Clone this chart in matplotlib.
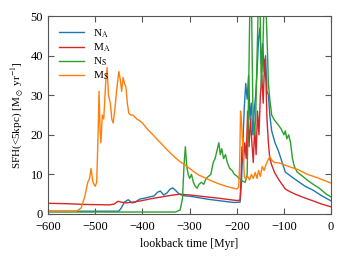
import matplotlib
matplotlib.use("Agg")
import matplotlib.pyplot as plt

plt.rcParams['font.family'] = 'serif'
plt.rcParams['font.serif'] = ['Liberation Serif', 'DejaVu Serif']
plt.rcParams['mathtext.fontset'] = 'stix'

# lookback time [Myr] and SFH values
t_na = [-600, -450, -445, -438, -430, -422, -415, -405, -395, -385, -375, -368, -362, -355, -348,
        -342, -336, -330, -322, -312, -300, -280, -260, -240, -220, -205, -193, -190, -187, -184,
        -181, -178, -175, -172, -169, -166, -163, -160, -157, -154, -151, -148, -145, -142, -139,
        -136, -133, -130, -126, -119, -112, -97, -85, -72, -55, -38, -20, 0]
sfh_na = [0.7, 0.7, 1.5, 3.0, 3.6, 2.8, 3.0, 3.8, 4.0, 4.3, 4.6, 5.5, 5.8, 4.8, 5.3,
          6.2, 6.6, 6.0, 5.0, 4.6, 4.5, 4.1, 3.7, 3.4, 3.1, 2.9, 3.0, 8.0, 18.0, 27.0,
          33.0, 29.0, 35.0, 24.0, 28.0, 20.0, 26.0, 30.0, 36.0, 44.0, 47.0, 38.0, 43.0, 36.0, 40.0,
          31.0, 30.0, 25.0, 21.0, 18.0, 16.0, 10.6, 9.5, 8.4, 7.0, 6.0, 4.6, 3.3]

t_ma = [-600, -560, -520, -470, -460, -452, -445, -435, -420, -400, -380, -360, -340, -320, -300,
        -270, -240, -220, -200, -193, -191, -189, -186, -183, -180, -177, -174, -171, -168, -165,
        -162, -159, -156, -153, -150, -147, -144, -141, -138, -136, -133, -130, -126, -120, -110,
        -97, -85, -72, -50, -38, -20, 0]
sfh_ma = [2.7, 2.6, 2.4, 2.3, 2.5, 3.2, 3.0, 2.8, 3.0, 3.4, 3.9, 4.3, 4.7, 5.0, 4.8,
          4.4, 4.0, 3.7, 3.4, 3.5, 9.0, 17.0, 13.0, 18.0, 14.0, 26.0, 17.0, 24.0, 18.0, 13.0,
          22.0, 15.0, 26.0, 20.0, 30.0, 35.0, 28.0, 39.0, 33.0, 24.0, 18.0, 14.0, 12.4, 10.5, 8.5,
          6.3, 5.5, 4.8, 3.8, 3.3, 2.5, 1.8]

t_ns = [-600, -330, -320, -315, -312, -309, -306, -303, -300, -296, -292, -288, -284, -280, -275,
        -270, -265, -260, -255, -250, -246, -242, -238, -235, -232, -228, -224, -220, -215, -210,
        -205, -200, -195, -190, -186, -182, -178, -175, -172, -169, -166, -163, -160, -157, -154,
        -151, -148, -145, -142, -139, -136, -133, -130, -126, -120, -112, -106, -100, -97,
        -94, -90, -86, -82, -78, -72, -60, -50, -38, -25, -10, 0]
sfh_ns = [0.5, 0.5, 1.0, 4.0, 12.0, 17.0, 12.0, 10.0, 9.0, 10.0, 8.0, 7.0, 6.5, 7.5, 8.0,
          7.5, 9.0, 9.5, 10.0, 13.0, 14.0, 16.0, 18.0, 15.0, 16.5, 14.0, 15.0, 13.0, 11.5, 11.0,
          10.0, 9.6, 9.0, 8.5, 8.2, 8.0, 10.0, 30.0, 55.0, 55.0, 28.0, 20.0, 24.0, 40.0, 55.0,
          55.0, 32.0, 40.0, 55.0, 55.0, 45.0, 33.0, 29.0, 25.0, 23.7, 22.5, 21.5, 20.0, 21.0,
          19.0, 20.0, 18.0, 14.0, 12.0, 10.6, 9.5, 8.5, 7.5, 6.5, 5.0, 4.3]

t_ms = [-600, -540, -530, -522, -516, -512, -509, -505, -500, -497, -494, -492, -490, -488, -485,
        -482, -478, -475, -472, -468, -465, -462, -458, -455, -450, -447, -444, -441, -438, -435,
        -432, -429, -425, -420, -412, -405, -400, -390, -380, -370, -360, -350, -340, -330, -320,
        -310, -300, -290, -280, -270, -260, -250, -240, -230, -220, -210, -200, -196, -194, -192,
        -190, -187, -184, -181, -177, -173, -169, -165, -161, -157, -154, -150, -146, -142, -138,
        -134, -130, -125, -120, -110, -97, -85, -70, -50, -30, -15, 0]
sfh_ms = [0.7, 0.7, 1.5, 4.5, 8.0, 9.0, 11.5, 8.0, 7.0, 8.0, 20.0, 31.0, 22.0, 18.0, 25.0,
          24.0, 33.0, 37.0, 30.0, 28.0, 24.0, 23.0, 27.0, 31.0, 36.0, 34.0, 31.0, 34.5, 33.0, 32.0,
          28.0, 25.5, 25.0, 25.0, 24.0, 23.5, 23.0, 21.5, 20.3, 19.0, 17.8, 16.5, 15.3, 14.2, 13.2,
          12.4, 11.5, 10.6, 9.8, 9.3, 8.7, 8.2, 7.7, 7.3, 6.9, 6.6, 6.3, 6.8, 12.0, 26.0,
          23.0, 17.0, 9.5, 8.8, 9.5, 8.6, 10.0, 9.0, 10.5, 9.0, 11.0, 9.5, 12.0, 11.0, 12.5,
          13.6, 14.5, 13.5, 13.0, 12.9, 12.3, 11.8, 11.2, 10.0, 9.2, 8.5, 7.8]

fig = plt.figure(figsize=(3.46, 2.6), dpi=100)
ax = fig.add_axes([0.139, 0.177, 0.818, 0.761])

ax.plot(t_na, sfh_na, color='#1f77b4', lw=1, label=r'N$_\mathrm{A}$')
ax.plot(t_ma, sfh_ma, color='#d62728', lw=1, label=r'M$_\mathrm{A}$')
ax.plot(t_ns, sfh_ns, color='#2ca02c', lw=1, label=r'N$_\mathrm{S}$')
ax.plot(t_ms, sfh_ms, color='#ff7f0e', lw=1, label=r'M$_\mathrm{S}$')

ax.set_xlim(-600, 0)
ax.set_ylim(0, 50)
ax.set_xticks([-600, -500, -400, -300, -200, -100, 0])
ax.set_yticks([0, 10, 20, 30, 40, 50])
ax.tick_params(direction='in', top=True, right=True, labelsize=9, length=4, color='#555555')
ax.tick_params(axis='x', pad=5)
for s in ax.spines.values():
    s.set_color('#555555')

ax.set_xlabel('lookback time [Myr]', fontsize=8.5)
ax.set_ylabel(r'SFH(<5kpc) [M$_\odot$ yr$^{-1}$]', fontsize=8)
ax.legend(loc='upper left', frameon=False, fontsize=8, handlelength=2.2, labelspacing=0.15,
          borderaxespad=0.6)

fig.savefig('out.png', dpi=100)
